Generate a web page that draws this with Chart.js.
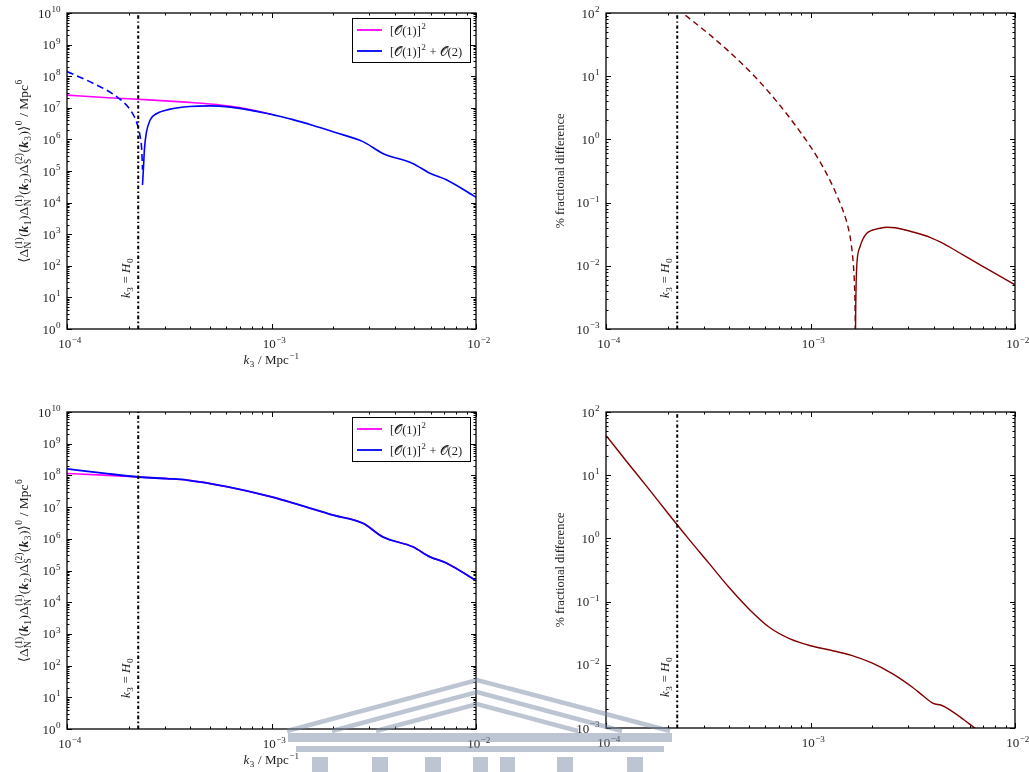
<!DOCTYPE html>
<html lang="en">
<head>
<meta charset="UTF-8">
<title>Bispectrum and fractional difference</title>
<script src="https://cdn.jsdelivr.net/npm/chart.js"></script>
<style>
  body { margin: 0; background: #fff; }
  #wrap { position: relative; width: 1029px; height: 772px; overflow: hidden; }
  canvas { position: absolute; }
  #crest { position: absolute; left: 0; top: 0; pointer-events: none; }
</style>
</head>
<body>
<div id="wrap">
  <canvas id="c1" width="520" height="390" style="left:0;top:0"></canvas>
  <canvas id="c2" width="509" height="390" style="left:520px;top:0"></canvas>
  <canvas id="c3" width="520" height="382" style="left:0;top:390px"></canvas>
  <canvas id="c4" width="509" height="382" style="left:520px;top:390px"></canvas>
  <!-- crest watermark -->
  <svg id="crest" width="1029" height="772">
    <g opacity="0.5">
      <g fill="none" stroke="rgb(125,138,165)" stroke-width="4.5">
        <polyline points="287,731 477,680 670,731"/>
        <polyline points="332,731 477,692 622,731"/>
        <polyline points="376,731 477,704 578,731"/>
      </g>
      <g fill="rgb(125,138,165)">
        <rect x="288" y="733" width="384" height="9"/>
        <rect x="296" y="746" width="368" height="6"/>
        <rect x="312" y="757" width="16" height="15"/>
        <rect x="372" y="757" width="16" height="15"/>
        <rect x="425" y="757" width="16" height="15"/>
        <rect x="473" y="757" width="15" height="15"/>
        <rect x="500" y="757" width="15" height="15"/>
        <rect x="557" y="757" width="16" height="15"/>
        <rect x="627" y="757" width="16" height="15"/>
      </g>
    </g>
  </svg>
</div>
<script>
// k3 = H0 in Mpc^-1
const kHorizon = 2.23e-4;

// top row: O(1)^2 and full bispectrum (|negative| part drawn dashed)
const kTopLin = [1.0e-4, 1.585e-4, 2.512e-4, 3.98e-4, 5.01e-4, 6.31e-4, 7.94e-4, 1.0e-3];
const bTopLin = [2.51e7, 2.09e7, 1.78e7, 1.48e7, 1.32e7, 1.12e7, 8.7e6, 6.2e6];
const kTopNeg = [1.0e-4, 1.3e-4, 1.75e-4, 2.04e-4, 2.2e-4, 2.28e-4, 2.32e-4, 2.34e-4];
const bTopNeg = [1.4e8, 6.6e7, 2.24e7, 8.5e6, 3.2e6, 1.2e6, 4.6e5, 1.1e5];
const kTopPos = [2.34e-4, 2.37e-4, 2.39e-4, 2.44e-4, 2.55e-4, 2.75e-4, 3.16e-4, 3.98e-4, 5.01e-4, 6.31e-4, 7.94e-4, 1.0e-3];
const bTopPos = [3.6e4, 1.6e5, 4.6e5, 1.55e6, 4.1e6, 6.6e6, 8.9e6, 1.1e7, 1.15e7, 1.05e7, 8.3e6, 6.2e6];
// above 1e-3 both curves coincide
const kTopTail = [1.0e-3, 1.26e-3, 1.585e-3, 2.0e-3, 2.8e-3, 3.5e-3, 4.9e-3, 5.95e-3, 7.2e-3, 1.0e-2];
const bTopTail = [6.2e6, 4.3e6, 2.8e6, 1.74e6, 8.5e5, 3.6e5, 1.74e5, 8.5e4, 5.2e4, 1.48e4];

// top row: % fractional difference
const kDiffNeg = [2.239e-4, 2.512e-4, 3.162e-4, 3.981e-4, 5.012e-4, 6.31e-4, 7.943e-4, 1.0e-3, 1.122e-3, 1.259e-3, 1.38e-3, 1.479e-3, 1.549e-3, 1.585e-3, 1.622e-3, 1.641e-3, 1.652e-3, 1.658e-3];
const dDiffNeg = [115, 86.1, 47.3, 24.8, 12.2, 5.43, 2.16, 0.767, 0.422, 0.209, 0.107, 0.0589, 0.0331, 0.0209, 0.010, 0.005, 0.00224, 0.00079];
const kDiffPos = [1.659e-3, 1.665e-3, 1.672e-3, 1.683e-3, 1.70e-3, 1.746e-3, 1.80e-3, 1.884e-3, 2.0e-3, 2.19e-3, 2.36e-3, 2.6e-3, 2.84e-3, 3.16e-3, 3.84e-3, 4.47e-3, 5.19e-3, 6.75e-3, 1.0e-2];
const dDiffPos = [0.0007, 0.0025, 0.0055, 0.0098, 0.0145, 0.020, 0.026, 0.0327, 0.0365, 0.0393, 0.0407, 0.040, 0.0375, 0.0343, 0.0282, 0.0224, 0.0170, 0.01035, 0.0050];

// bottom row: O(1)^2 and full bispectrum
const kBot = [1.0e-4, 1.5e-4, 2.24e-4, 3.08e-4, 3.86e-4, 6.05e-4, 1.0e-3, 1.38e-3, 2.0e-3, 2.8e-3, 3.5e-3, 4.9e-3, 5.95e-3, 7.2e-3, 1.0e-2];
const bBotLin = [1.15e8, 1.02e8, 8.9e7, 7.9e7, 7.1e7, 4.4e7, 2.1e7, 1.15e7, 5.6e6, 3.1e6, 1.15e6, 5.6e5, 2.7e5, 1.7e5, 4.8e4];
const bBotFull = [1.6e8, 1.18e8, 8.9e7, 7.9e7, 7.1e7, 4.4e7, 2.1e7, 1.15e7, 5.6e6, 3.1e6, 1.15e6, 5.6e5, 2.7e5, 1.7e5, 4.8e4];

// bottom row: % fractional difference
const kBotDiff = [1.0e-4, 1.259e-4, 1.585e-4, 1.995e-4, 2.512e-4, 3.162e-4, 3.981e-4, 5.012e-4, 6.31e-4, 7.943e-4, 1.0e-3, 1.259e-3, 1.585e-3, 1.995e-3, 2.512e-3, 3.162e-3, 3.548e-3, 3.981e-3, 4.365e-3, 4.786e-3, 5.623e-3, 6.31e-3, 7.079e-3];
const dBotDiff = [42.7, 16.6, 6.6, 2.57, 1.02, 0.417, 0.17, 0.0759, 0.0389, 0.0257, 0.020, 0.017, 0.0141, 0.0107, 0.00724, 0.00437, 0.00324, 0.00245, 0.00229, 0.00195, 0.00135, 0.00102, 0.00078];

const MAGENTA = '#ff00ff', BLUE = '#0000ff', MAROON = '#800000';
const SERIF = '"Liberation Serif", "DejaVu Serif", serif';

function setFont(ctx, size, st) {
  ctx.font = (st ? st + ' ' : '') + size + 'px ' + SERIF;
}

// runs of text with optional stacked super/subscripts
function runsWidth(ctx, runs, size) {
  let w = 0;
  for (const r of runs) {
    setFont(ctx, size, r.st);
    w += ctx.measureText(r.t).width;
    setFont(ctx, size * 0.7);
    let a = 0;
    if (r.sup) a = Math.max(a, ctx.measureText(r.sup).width);
    if (r.sub) a = Math.max(a, ctx.measureText(r.sub).width);
    if (a) w += a + 1;
  }
  return w;
}

function drawRuns(ctx, runs, x, y, size, align) {
  const w = runsWidth(ctx, runs, size);
  let cx = align === 'center' ? x - w / 2 : align === 'right' ? x - w : x;
  ctx.textAlign = 'left';
  ctx.textBaseline = 'alphabetic';
  for (const r of runs) {
    setFont(ctx, size, r.st);
    ctx.fillText(r.t, cx, y);
    cx += ctx.measureText(r.t).width;
    setFont(ctx, size * 0.7);
    let a = 0;
    if (r.sup) { ctx.fillText(r.sup, cx + 0.5, y - size * 0.42); a = ctx.measureText(r.sup).width; }
    if (r.sub) { ctx.fillText(r.sub, cx + 0.5, y + size * 0.24); a = Math.max(a, ctx.measureText(r.sub).width); }
    if (a) cx += a + 1;
  }
}

const expLabel = e => [{ t: '10', sup: e < 0 ? '\u2212' + (-e) : String(e) }];

const bispecTitle = [
  { t: '\u27e8\u0394', sup: '(1)', sub: 'N' }, { t: '(' }, { t: 'k', st: 'bold italic', sub: '1' },
  { t: ')\u0394', sup: '(1)', sub: 'N' }, { t: '(' }, { t: 'k', st: 'bold italic', sub: '2' },
  { t: ')\u0394', sup: '(2)', sub: 'S' }, { t: '(' }, { t: 'k', st: 'bold italic', sub: '3' },
  { t: ')\u27e9', sup: '0' }, { t: ' / Mpc', sup: '6' }
];
const kTitle = [{ t: 'k', st: 'italic', sub: '3' }, { t: ' / Mpc', sup: '\u22121' }];
const diffTitle = [{ t: '% fractional difference' }];
const horizonNote = [{ t: 'k', st: 'italic', sub: '3' }, { t: ' = ' }, { t: 'H', st: 'italic', sub: '0' }];
const legendItems = [
  { color: MAGENTA, runs: [{ t: '[\ud835\udcaa(1)]', sup: '2' }] },
  { color: BLUE, runs: [{ t: '[\ud835\udcaa(1)]', sup: '2' }, { t: ' + \ud835\udcaa(2)' }] }
];

// frame, inward ticks, labels, titles, legend and note
const frame = {
  id: 'frame',
  afterDraw(chart, args, o) {
    const { ctx, chartArea: a, scales: { x, y } } = chart;
    ctx.save();
    ctx.strokeStyle = '#000';
    ctx.lineWidth = 1;
    ctx.beginPath();
    for (let e = o.xExp[0]; e <= o.xExp[1]; e++) {
      for (let m = 1; m <= 9; m++) {
        if (e === o.xExp[1] && m > 1) break;
        const px = Math.round(x.getPixelForValue(m * Math.pow(10, e))) + 0.5;
        const len = m === 1 ? 5 : 2.5;
        ctx.moveTo(px, a.bottom); ctx.lineTo(px, a.bottom - len);
        ctx.moveTo(px, a.top); ctx.lineTo(px, a.top + len);
      }
    }
    for (let e = o.yExp[0]; e <= o.yExp[1]; e++) {
      for (let m = 1; m <= 9; m++) {
        if (e === o.yExp[1] && m > 1) break;
        const py = Math.round(y.getPixelForValue(m * Math.pow(10, e))) + 0.5;
        const len = m === 1 ? 5 : 2.5;
        ctx.moveTo(a.left, py); ctx.lineTo(a.left + len, py);
        ctx.moveTo(a.right, py); ctx.lineTo(a.right - len, py);
      }
    }
    ctx.stroke();
    ctx.lineWidth = 1.3;
    ctx.strokeRect(a.left, a.top, a.right - a.left, a.bottom - a.top);

    ctx.fillStyle = '#1e1e1e';
    for (let e = o.xExp[0]; e <= o.xExp[1]; e++) {
      drawRuns(ctx, expLabel(e), x.getPixelForValue(Math.pow(10, e)) + 3, a.bottom + 19, 13, 'center');
    }
    for (let e = o.yExp[0]; e <= o.yExp[1]; e++) {
      drawRuns(ctx, expLabel(e), a.left - 6, y.getPixelForValue(Math.pow(10, e)) + 4.5, 13, 'right');
    }
    if (o.xTitle) {
      drawRuns(ctx, o.xTitle, (a.left + a.right) / 2, a.bottom + 35, 13, 'center');
    }
    if (o.yTitle) {
      ctx.save();
      ctx.translate(o.yTitleX, (a.top + a.bottom) / 2);
      ctx.rotate(-Math.PI / 2);
      drawRuns(ctx, o.yTitle, 0, 0, o.yTitleSize, 'center');
      ctx.restore();
    }
    // k3 = H0 note beside the dash-dot line
    ctx.save();
    ctx.translate(x.getPixelForValue(kHorizon) - 8, a.bottom - 51);
    ctx.rotate(-Math.PI / 2);
    drawRuns(ctx, horizonNote, 0, 0, 13, 'center');
    ctx.restore();

    if (o.legend) {
      const bx = a.left + 285, by = a.top + 5, bw = 118, bh = 44;
      ctx.fillStyle = '#fff';
      ctx.fillRect(bx, by, bw, bh);
      ctx.lineWidth = 1;
      ctx.strokeStyle = '#000';
      ctx.strokeRect(bx + 0.5, by + 0.5, bw, bh);
      o.legend.forEach((it, i) => {
        const ly = by + 12 + i * 21;
        ctx.strokeStyle = it.color;
        ctx.lineWidth = 1.8;
        ctx.beginPath();
        ctx.moveTo(bx + 5, ly); ctx.lineTo(bx + 30, ly);
        ctx.stroke();
        ctx.fillStyle = '#1e1e1e';
        drawRuns(ctx, it.runs, bx + 38, ly + 4.5, 12.5, 'left');
      });
    }
    ctx.restore();
  }
};

const pts = (k, v) => k.map((kk, i) => ({ x: kk, y: v[i] }));

function horizonLine(yMin, yMax) {
  return {
    data: [{ x: kHorizon, y: yMin }, { x: kHorizon, y: yMax }],
    borderColor: '#000', borderWidth: 2, borderDash: [3.5, 2.5, 1.5, 2.5], order: 0
  };
}

function makeChart(id, pad, yMin, yMax, datasets, frameOpts) {
  return new Chart(document.getElementById(id), {
    type: 'line',
    data: { datasets },
    options: {
      responsive: false,
      animation: false,
      layout: { padding: pad },
      plugins: { legend: { display: false }, tooltip: { enabled: false }, frame: frameOpts },
      scales: {
        x: { type: 'logarithmic', min: 1e-4, max: 1e-2, display: false },
        y: { type: 'logarithmic', min: yMin, max: yMax, display: false }
      },
      elements: {
        point: { radius: 0 },
        line: { cubicInterpolationMode: 'monotone', fill: false }
      }
    },
    plugins: [frame]
  });
}

// higher order is painted first, so blue sits on top of magenta
makeChart('c1', { left: 67, top: 13, right: 44, bottom: 61 }, 1, 1e10, [
  horizonLine(1, 1e10),
  { data: pts(kTopLin, bTopLin), borderColor: MAGENTA, borderWidth: 1.6, order: 3 },
  { data: pts(kTopNeg, bTopNeg), borderColor: BLUE, borderWidth: 1.6, borderDash: [7, 4], order: 1 },
  { data: pts(kTopPos, bTopPos), borderColor: BLUE, borderWidth: 1.6, order: 1 },
  { data: pts(kTopTail, bTopTail), borderColor: BLUE, borderWidth: 1.6, order: 1 }
], { xExp: [-4, -2], yExp: [0, 10], xTitle: kTitle, yTitle: bispecTitle, yTitleX: 28, yTitleSize: 13.5, legend: legendItems });

makeChart('c2', { left: 86, top: 13, right: 14, bottom: 61 }, 1e-3, 1e2, [
  horizonLine(1e-3, 1e2),
  { data: pts(kDiffNeg, dDiffNeg), borderColor: MAROON, borderWidth: 1.4, borderDash: [6, 4], order: 1 },
  { data: pts(kDiffPos, dDiffPos), borderColor: MAROON, borderWidth: 1.4, order: 1 }
], { xExp: [-4, -2], yExp: [-3, 2], yTitle: diffTitle, yTitleX: 44, yTitleSize: 12.5 });

makeChart('c3', { left: 67, top: 22, right: 44, bottom: 43 }, 1, 1e10, [
  horizonLine(1, 1e10),
  { data: pts(kBot, bBotLin), borderColor: MAGENTA, borderWidth: 1.6, order: 3 },
  { data: pts(kBot, bBotFull), borderColor: BLUE, borderWidth: 1.8, order: 1 }
], { xExp: [-4, -2], yExp: [0, 10], xTitle: kTitle, yTitle: bispecTitle, yTitleX: 28, yTitleSize: 13.5, legend: legendItems });

makeChart('c4', { left: 86, top: 22, right: 14, bottom: 44 }, 1e-3, 1e2, [
  horizonLine(1e-3, 1e2),
  { data: pts(kBotDiff, dBotDiff), borderColor: MAROON, borderWidth: 1.4, order: 1 }
], { xExp: [-4, -2], yExp: [-3, 2], yTitle: diffTitle, yTitleX: 44, yTitleSize: 12.5 });
</script>
</body>
</html>
